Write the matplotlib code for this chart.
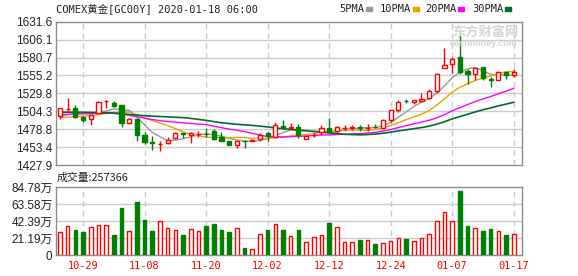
import numpy as np
import pandas as pd
import matplotlib
matplotlib.use("Agg")
import matplotlib.pyplot as plt

# trading days shown (Christmas and New Year closed)
dates = pd.bdate_range("2019-10-24", "2020-01-17")
dates = dates[~dates.isin(pd.to_datetime(["2019-12-25", "2020-01-01"]))]
date_lbl = [d.strftime("%m-%d") for d in dates]
tick_dates = ["10-29", "11-08", "11-20", "12-02", "12-12", "12-24", "01-07", "01-17"]

opens = [1497.2, 1507.3, 1508.5, 1496.6, 1493.4, 1501.9, 1518.2, 1515.5, 1513.2, 1487.3,
         1493.4, 1470.7, 1460.0, 1457.6, 1459.0, 1466.0, 1473.0, 1471.0, 1471.6, 1472.5,
         1476.8, 1468.3, 1461.8, 1457.0, 1462.4, 1462.2, 1464.6, 1473.1, 1468.3, 1483.9,
         1481.2, 1481.6, 1465.4, 1470.6, 1474.5, 1480.6, 1476.0, 1480.6, 1481.0, 1481.6,
         1480.6, 1482.4, 1481.0, 1492.0, 1506.1, 1519.3, 1517.9, 1519.3, 1523.6, 1533.0,
         1565.3, 1570.9, 1580.9, 1561.0, 1556.8, 1566.7, 1550.3, 1549.0, 1559.6, 1556.0]
highs = [1509.5, 1523.0, 1513.2, 1497.0, 1499.5, 1518.5, 1520.0, 1518.9, 1513.5, 1494.0,
         1494.0, 1474.5, 1468.9, 1461.8, 1468.3, 1475.4, 1474.0, 1475.4, 1476.8, 1480.2,
         1478.8, 1474.5, 1462.3, 1462.2, 1463.2, 1464.2, 1473.1, 1475.4, 1489.1, 1492.0,
         1487.3, 1486.3, 1469.5, 1474.0, 1485.3, 1494.4, 1483.9, 1485.3, 1484.9, 1484.9,
         1486.0, 1486.0, 1493.4, 1506.6, 1520.3, 1521.7, 1520.5, 1530.2, 1535.9, 1559.0,
         1594.2, 1581.7, 1616.5, 1563.8, 1565.3, 1567.0, 1552.4, 1561.9, 1560.0, 1564.0]
lows = [1493.4, 1505.0, 1494.4, 1488.7, 1485.3, 1501.5, 1509.0, 1511.0, 1482.5, 1486.5,
        1462.6, 1457.9, 1449.7, 1447.6, 1458.0, 1464.6, 1466.0, 1458.9, 1467.4, 1467.4,
        1463.2, 1462.6, 1456.0, 1451.8, 1452.0, 1461.5, 1461.8, 1461.8, 1467.9, 1479.6,
        1479.2, 1466.9, 1465.0, 1467.4, 1471.0, 1473.1, 1473.0, 1476.8, 1478.2, 1476.8,
        1476.8, 1480.0, 1480.6, 1488.7, 1503.7, 1515.6, 1515.1, 1519.3, 1521.7, 1530.5,
        1565.3, 1558.6, 1556.8, 1543.6, 1548.3, 1548.3, 1539.4, 1549.0, 1550.0, 1552.4]
closes = [1508.5, 1507.5, 1496.6, 1492.4, 1499.0, 1517.0, 1518.5, 1511.7, 1487.3, 1493.4,
          1470.7, 1461.2, 1458.6, 1458.0, 1464.0, 1473.5, 1471.7, 1473.0, 1472.0, 1471.7,
          1465.0, 1462.6, 1456.5, 1461.8, 1461.8, 1463.6, 1471.0, 1468.9, 1484.5, 1482.0,
          1481.6, 1471.0, 1468.9, 1471.0, 1480.2, 1474.5, 1482.5, 1481.0, 1481.4, 1480.6,
          1481.0, 1482.0, 1492.0, 1506.1, 1517.9, 1518.5, 1520.3, 1521.7, 1533.0, 1557.0,
          1570.0, 1578.5, 1560.5, 1556.8, 1565.3, 1551.0, 1549.0, 1559.6, 1556.0, 1560.5]

ma5 = [1497.5, 1499.5, 1501.0, 1501.5, 1500.8, 1502.5, 1504.7, 1507.7, 1506.7, 1505.6,
       1496.3, 1484.9, 1474.2, 1468.4, 1462.5, 1463.1, 1465.2, 1468.0, 1470.8, 1472.4,
       1470.7, 1468.9, 1465.6, 1463.5, 1461.5, 1461.3, 1462.9, 1465.4, 1470.0, 1474.0,
       1477.6, 1477.6, 1477.6, 1474.9, 1474.5, 1473.1, 1475.4, 1477.8, 1479.9, 1480.0,
       1481.3, 1481.2, 1483.4, 1488.3, 1495.8, 1503.3, 1511.0, 1516.9, 1522.3, 1530.1,
       1540.4, 1552.0, 1559.8, 1564.6, 1566.2, 1562.4, 1556.5, 1556.3, 1556.2, 1555.2]
ma10 = [1495.5, 1496.0, 1496.6, 1497.3, 1498.2, 1499.5, 1501.0, 1502.3, 1503.0, 1503.2,
        1499.4, 1494.8, 1491.0, 1487.5, 1484.0, 1479.7, 1475.0, 1471.1, 1469.6, 1467.4,
        1466.9, 1467.0, 1466.8, 1467.2, 1467.0, 1466.0, 1465.9, 1465.5, 1466.7, 1467.8,
        1469.4, 1470.3, 1471.5, 1472.4, 1474.3, 1475.4, 1476.5, 1477.7, 1477.4, 1477.3,
        1477.2, 1478.3, 1480.6, 1484.1, 1487.9, 1492.3, 1496.1, 1500.1, 1505.3, 1513.0,
        1521.9, 1531.5, 1538.4, 1543.4, 1548.2, 1551.4, 1554.3, 1558.1, 1560.4, 1560.7]
ma20 = [1499.5, 1500.0, 1500.3, 1500.6, 1501.0, 1501.3, 1501.5, 1501.3, 1500.3, 1498.5,
        1496.5, 1494.5, 1492.6, 1491.0, 1489.8, 1488.8, 1487.8, 1486.9, 1486.1, 1485.3,
        1483.1, 1480.9, 1478.9, 1477.4, 1475.5, 1472.8, 1470.5, 1468.3, 1468.2, 1467.6,
        1468.2, 1468.6, 1469.2, 1469.8, 1470.6, 1470.7, 1471.2, 1471.6, 1472.1, 1472.5,
        1473.3, 1474.3, 1476.1, 1478.3, 1481.1, 1483.8, 1486.3, 1488.9, 1491.4, 1495.1,
        1499.5, 1504.9, 1509.5, 1513.8, 1518.0, 1521.8, 1525.2, 1529.1, 1532.8, 1536.8]
ma30 = [1503.0, 1503.0, 1503.0, 1502.8, 1502.6, 1502.4, 1502.2, 1501.8, 1500.8, 1499.8,
        1498.8, 1498.0, 1497.3, 1496.8, 1496.3, 1495.8, 1495.2, 1494.2, 1492.8, 1491.3,
        1489.6, 1488.0, 1486.8, 1485.8, 1485.0, 1484.2, 1483.2, 1482.0, 1480.7, 1479.5,
        1478.6, 1477.4, 1476.4, 1475.7, 1475.1, 1473.7, 1472.5, 1471.5, 1471.2, 1470.8,
        1471.2, 1471.9, 1473.0, 1474.6, 1476.4, 1477.9, 1479.5, 1481.1, 1483.1, 1486.0,
        1489.5, 1493.4, 1496.8, 1500.0, 1503.4, 1506.4, 1509.0, 1512.0, 1514.4, 1517.0]

# volume in units of 10k (万)
volume = [28.9, 36.0, 31.0, 28.9, 34.3, 36.8, 36.8, 24.8, 58.3, 29.7,
          65.7, 43.4, 29.7, 41.8, 33.1, 30.6, 24.8, 31.8, 29.7, 36.0,
          38.4, 31.0, 28.9, 33.1, 8.7, 7.0, 26.0, 31.0, 38.4, 31.0,
          23.6, 31.0, 16.1, 21.9, 24.4, 40.0, 34.3, 16.1, 16.1, 18.6,
          18.6, 13.6, 14.9, 17.4, 21.1, 19.8, 17.4, 21.1, 26.0, 41.8,
          54.2, 41.8, 79.3, 36.0, 33.1, 29.7, 32.2, 29.7, 24.8, 25.7366]

price_ticks = ["1427.9", "1453.4", "1478.8", "1504.3", "1529.8", "1555.2", "1580.7", "1606.1", "1631.6"]
vol_ticks = ["0", "21.19万", "42.39万", "63.58万", "84.78万"]

RED = "#ff0000"
GREEN = "#008000"
GRID = "#cccccc"
FRAME = "#8c8c8c"
cjk = ["Liberation Sans", "Noto Sans CJK SC"]
mono = ["DejaVu Sans Mono", "Noto Sans CJK SC"]

x = np.arange(len(closes))
o = np.array(opens); c = np.array(closes)
up = c >= o
tick_pos = [date_lbl.index(t) for t in tick_dates]

fig = plt.figure(figsize=(5.78, 2.76), dpi=100)
ax = fig.add_axes([56/578, 1-165/276, 466/578, 143.3/276])
axv = fig.add_axes([56/578, 1-255/276, 466/578, 68/276])

pvals = [float(v) for v in price_ticks]
for a in (ax, axv):
    a.set_xlim(-0.52, 60.08)
    for p in tick_pos:
        a.axvline(p, color=GRID, lw=1, ls=(0, (4, 3)), zorder=0)
    for s in a.spines.values():
        s.set_color(FRAME)
        s.set_linewidth(1)
    a.tick_params(length=0, colors="#222222")

# price panel
ax.set_ylim(pvals[0], pvals[-1])
for v in pvals[1:-1]:
    ax.axhline(v, color=GRID, lw=1, zorder=0)
ax.set_yticks(pvals)
ax.set_yticklabels(price_ticks, family=cjk, fontsize=8.5)
ax.tick_params(axis="y", pad=2.5)
ax.set_xticks([])

ax.plot(x, ma5, color="#999999", lw=1, zorder=2)
ax.plot(x, ma10, color="#f0a000", lw=1, zorder=2)
ax.plot(x, ma20, color="#ff00ff", lw=1, zorder=2)
ax.plot(x, ma30, color="#006b33", lw=1.2, zorder=2)

colors = [RED if u else GREEN for u in up]
faces = ["white" if u else GREEN for u in up]
ax.vlines(x, lows, highs, colors=colors, lw=1, zorder=3)
body_h = np.abs(c - o)
body_b = np.minimum(c, o)
ax.bar(x, body_h, 0.55, bottom=body_b, color=faces,
       edgecolor=colors, linewidth=1, zorder=4)

# volume panel
axv.set_ylim(0, 84.78)
for v in [21.195, 42.39, 63.585]:
    axv.axhline(v, color=GRID, lw=1, zorder=0)
axv.set_yticks([0, 21.195, 42.39, 63.585, 84.78])
axv.set_yticklabels(vol_ticks, family=cjk, fontsize=8.5)
axv.tick_params(axis="y", pad=2.5)
axv.bar(x, volume, 0.47, color=faces, edgecolor=colors, linewidth=1, zorder=3)
axv.set_xticks(tick_pos)
axv.set_xticklabels(tick_dates, family=mono, fontsize=7.4, color=RED)
axv.tick_params(axis="x", pad=4)

# header texts
fig.text(56/578, 1-9/276, "COMEX黄金[GC00Y] 2020-01-18 06:00", family=mono,
         fontsize=7.5, color="#222222", va="center", ha="left")
legend = [("5PMA", "#999999", 339), ("10PMA", "#f0a000", 380),
          ("20PMA", "#ff00ff", 425), ("30PMA", "#006b33", 472)]
for name, col, px in legend:
    fig.text(px/578, 1-9/276, name, family=mono, fontsize=7.5, color="#222222",
             va="center", ha="left")
    sx = px + len(name)*6.0 + 3
    fig.patches.append(plt.Rectangle((sx/578, 1-11/276), 6/578, 4/276,
                                     transform=fig.transFigure, color=col, figure=fig))
fig.text(57/578, 1-178/276, "成交量:257366", family=["Noto Sans CJK SC"], fontsize=7.8,
         color="#222222", va="center", ha="left")

# watermark
fig.text(452/578, 1-32/276, "东方财富网", family=["Noto Sans CJK SC"], fontsize=9.5,
         color="#d4d4d4", va="center", ha="left", weight="bold", zorder=0)
fig.text(450/578, 1-43/276, "eastmoney.com", family=["Liberation Sans"], fontsize=6.5,
         color="#d4d4d4", va="center", ha="left", weight="bold", zorder=0)

fig.savefig("out.png", dpi=100)
